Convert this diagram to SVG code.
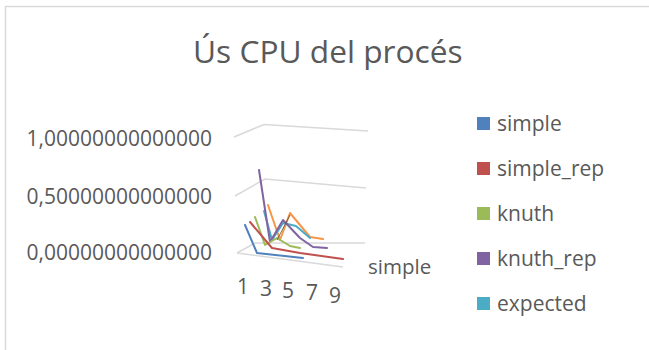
<svg xmlns="http://www.w3.org/2000/svg" width="649" height="350" viewBox="0 0 649 350">
  <style>
    .txt { font-family: "Open Sans", "Liberation Sans", sans-serif; fill: #595959; }
    .grid { fill: none; stroke: #d9d9d9; stroke-width: 1.5; }
    .ser { fill: none; stroke-width: 2; stroke-linejoin: round; stroke-linecap: round; }
  </style>
  <rect x="0" y="0" width="649" height="350" fill="#ffffff"/>
  <!-- chart frame -->
  <path d="M5.5 350 V6.5 H649" fill="none" stroke="#d9d9d9" stroke-width="1.5"/>

  <!-- title -->
  <text id="title" class="txt" x="193" y="63" font-size="31.7">Ús CPU del procés</text>

  <!-- value axis labels -->
  <g id="value-axis" class="txt" font-size="21" text-anchor="end">
    <text x="212" y="146">1,00000000000000</text>
    <text x="212" y="204">0,50000000000000</text>
    <text x="212" y="260">0,00000000000000</text>
  </g>

  <!-- 3D walls and floor gridlines -->
  <g id="gridlines" class="grid">
    <path d="M234 137 L264 124.5 L368 131"/>
    <path d="M235 196 L265 179 L366 188"/>
    <path d="M237 253 L255 243 L365 243"/>
    <path d="M237 253 L343 267"/>
  </g>

  <!-- data series -->
  <g id="series">
    <polyline id="s-orange" class="ser" stroke="#f79646" points="268,205 280,240 290,213 310,237 323,239"/>
    <polyline id="s-teal" class="ser" stroke="#4bacc6" points="264,211 272,240 283,223 296,226 310,238"/>
    <polyline id="s-purple" class="ser" stroke="#8064a2" points="259,170 270,242 283,220 300,238 313,247 327,248"/>
    <polyline id="s-green" class="ser" stroke="#9bbb59" points="255,217 265,245 277,238 290,246 300,248"/>
    <polyline id="s-red" class="ser" stroke="#c0504d" points="250,222 272,248 300,253 343,259"/>
    <polyline id="s-blue" class="ser" stroke="#4f81bd" points="245,225 257,253 303,258"/>
    <line x1="277" y1="240" x2="290" y2="215" stroke="#5a4a3a" stroke-width="0.8"/>
  </g>

  <!-- category axis labels -->
  <g id="category-axis" class="txt" font-size="21">
    <text x="237" y="294">1</text>
    <text x="260" y="296">3</text>
    <text x="282" y="298">5</text>
    <text x="306" y="300">7</text>
    <text x="329" y="303">9</text>
  </g>
  <text id="series-axis" class="txt" x="368" y="274" font-size="20.5">simple</text>

  <!-- legend -->
  <g id="legend" class="txt" font-size="21">
    <g id="legend-simple"><rect x="477" y="117" width="13" height="13" fill="#4f81bd"/><text x="497" y="131">simple</text></g>
    <g id="legend-simple_rep"><rect x="477" y="162" width="13" height="13" fill="#c0504d"/><text x="497" y="176">simple_rep</text></g>
    <g id="legend-knuth"><rect x="477" y="207" width="13" height="13" fill="#9bbb59"/><text x="497" y="221">knuth</text></g>
    <g id="legend-knuth_rep"><rect x="477" y="252" width="13" height="13" fill="#8064a2"/><text x="497" y="266">knuth_rep</text></g>
    <g id="legend-expected"><rect x="477" y="297" width="13" height="13" fill="#4bacc6"/><text x="497" y="311">expected</text></g>
  </g>
</svg>
